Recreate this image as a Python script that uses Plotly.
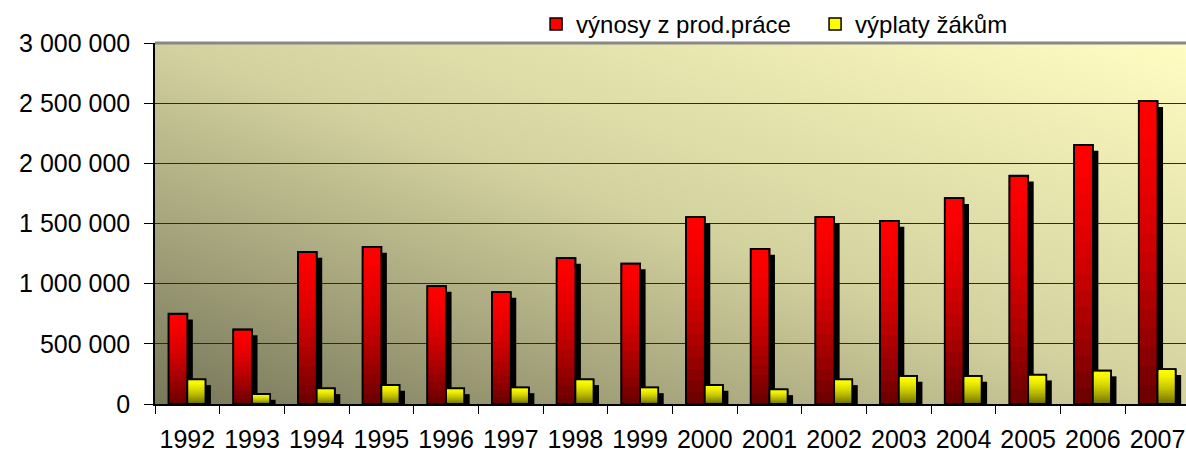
import base64
import plotly.graph_objects as go

years = ["1992", "1993", "1994", "1995", "1996", "1997", "1998", "1999",
         "2000", "2001", "2002", "2003", "2004", "2005", "2006", "2007"]
vynosy = [750000, 619000, 1263000, 1305000, 980000, 930000, 1213000, 1167000,
          1553000, 1289000, 1553000, 1522000, 1711000, 1897000, 2153000, 2517000]
vyplaty = [205000, 83000, 130000, 158000, 130000, 138000, 205000, 138000,
           158000, 122000, 205000, 233000, 233000, 244000, 278000, 289000]
names = ["výnosy z prod.práce", "výplaty žákům"]
ytickvals = [0, 500000, 1000000, 1500000, 2000000, 2500000, 3000000]

N_LAYERS = 16
SHADOW_DX = 0.085
SHADOW_DY = 48000


def red_col(t):
    r = int(255 - 150 * t ** 1.5)
    return f"rgb({r},0,0)"


def yel_col(t):
    g = int(255 - 145 * t ** 1.5)
    return f"rgb({g},{g},0)"


series = [
    (names[0], vynosy, red_col, -0.29, 0.29),
    (names[1], vyplaty, yel_col, 0.0, 0.28),
]

fig = go.Figure()
for name, vals, colfn, off, wid in series:
    # drop shadow
    fig.add_trace(go.Bar(
        x=years, y=[max(v - SHADOW_DY, 0) for v in vals],
        offset=off + SHADOW_DX, width=wid,
        marker=dict(color="black", line=dict(width=0)),
        showlegend=False, hoverinfo="skip"))
    # gradient layers (bright top -> dark bottom)
    for k in range(N_LAYERS):
        frac = 1 - k / N_LAYERS
        t = (k + 0.5) / N_LAYERS
        fig.add_trace(go.Bar(
            x=years, y=[v * frac for v in vals],
            offset=off, width=wid,
            name=name,
            marker=dict(color=colfn(t),
                        line=dict(width=1.5 if k == 0 else 0, color="black")),
            showlegend=(k == 0), legendgroup=name, hoverinfo="skip"))
    # outline
    fig.add_trace(go.Bar(
        x=years, y=vals, offset=off, width=wid, name=name,
        marker=dict(color="rgba(0,0,0,0)", line=dict(width=1.8, color="black")),
        showlegend=False, legendgroup=name))

svg = ("<svg xmlns='http://www.w3.org/2000/svg' width='200' height='100' "
       "viewBox='0 0 200 100' preserveAspectRatio='none'>"
       "<defs><linearGradient id='g' x1='0' y1='1' x2='1' y2='0'>"
       "<stop offset='0' stop-color='#77775a'/>"
       "<stop offset='0.5' stop-color='#d3d19e'/>"
       "<stop offset='1' stop-color='#fffdc2'/>"
       "</linearGradient></defs>"
       "<rect x='0' y='0' width='200' height='100' fill='url(#g)'/></svg>")
src = "data:image/svg+xml;base64," + base64.b64encode(svg.encode()).decode()

fig.update_layout(
    width=1186, height=452,
    margin=dict(l=155, r=0, t=43, b=48, autoexpand=False),
    barmode="overlay",
    paper_bgcolor="white",
    plot_bgcolor="rgba(0,0,0,0)",
    separators=", ",
    font=dict(family="Liberation Sans, Arial, sans-serif", color="black"),
    images=[dict(source=src, xref="paper", yref="paper", x=0, y=1,
                 sizex=1, sizey=1, sizing="stretch", layer="below",
                 xanchor="left", yanchor="top")],
    legend=dict(orientation="h", xref="container", yref="container",
                x=0.452, y=0.996, xanchor="left", yanchor="top",
                font=dict(size=24), bgcolor="rgba(0,0,0,0)",
                traceorder="normal", itemwidth=30,
                entrywidth=234, entrywidthmode="pixels"),
    shapes=[dict(type="line", xref="paper", yref="paper", x0=0, x1=1, y0=1, y1=1,
                 line=dict(color="#888888", width=3))],
    showlegend=True,
)
fig.update_xaxes(
    type="category", range=[-0.5, 15.44], automargin=False,
    showline=True, linecolor="black", linewidth=1.5,
    ticks="outside", tickson="boundaries", ticklen=8, tickcolor="black",
    tickwidth=1, showgrid=False, tickangle=0,
    tickfont=dict(size=25), ticklabelstandoff=12,
)
fig.update_yaxes(
    range=[0, 3000000], tickvals=ytickvals, tickformat=",.0f", automargin=False,
    showline=True, linecolor="black", linewidth=1.5,
    ticks="outside", ticklen=9, tickcolor="black",
    showgrid=True, gridcolor="#2a2a2a", gridwidth=1,
    zeroline=False,
    tickfont=dict(size=25), ticklabelstandoff=9,
)

fig.write_html("out.html",
               config={"displayModeBar": False},
               post_script="document.body.style.margin='0';"
                           "document.body.style.overflow='hidden';")
